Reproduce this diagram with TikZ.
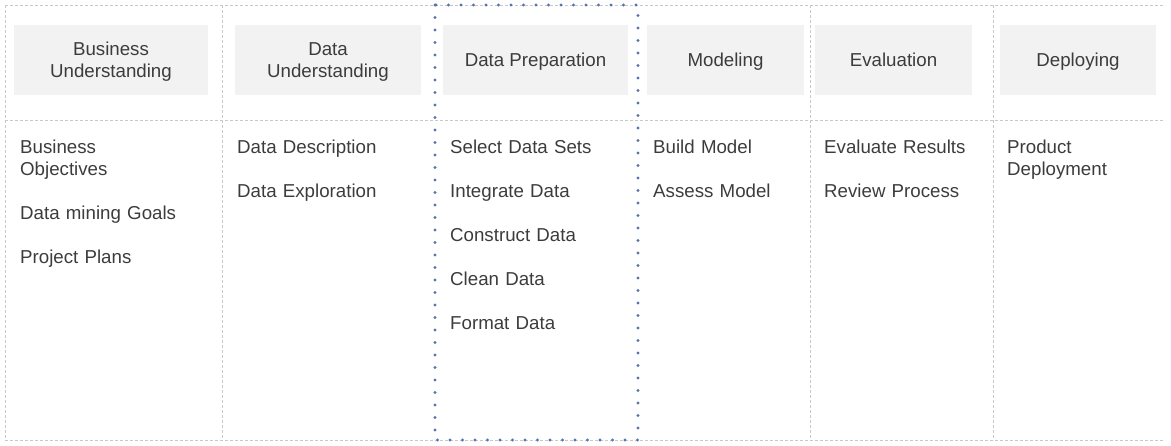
\documentclass[tikz,border=0pt]{standalone}
\usepackage{fontspec}
\setmainfont{Liberation Sans}
\usepackage{xcolor}
\usepackage{tikz}
\usetikzlibrary{positioning}

\definecolor{gridgray}{HTML}{C8C8C8}
\definecolor{dotblue}{HTML}{5874B0}
\definecolor{boxgray}{HTML}{F2F2F2}
\definecolor{textgray}{HTML}{3C3C3C}
\newcommand{\phasestrut}{\rule[-4pt]{0pt}{21pt}}

\begin{document}
\begin{tikzpicture}[x=1pt,y=-1pt,
        phase/.style={fill=boxgray,text=textgray,align=center,minimum height=70pt,
            inner sep=0pt,font=\fontsize{18.7}{22}\selectfont},
        task/.style={anchor=base west,text=textgray,text width=190pt,align=left,
            inner sep=0pt,font=\fontsize{18.7}{22}\selectfont},
        gridline/.style={gridgray,dash pattern=on 2.5pt off 2.5pt,line width=0.8pt},
        focus/.style={dotblue,line width=3.2pt,line cap=round,dash pattern=on 0pt off 12.5pt}]
        \useasboundingbox (0,0) rectangle (1171,445);

        % Grid
        \foreach \y in {5,120,440} {
            \draw[gridline] (5,\y) -- (1165,\y);
        }
        \foreach \x in {5,222,810,993} {
            \draw[gridline] (\x,5) -- (\x,440);
        }

        % Phase headers
        \foreach \name/\x/\w/\txt in {bu/111/194/Business\\Understanding,
                du/328/186/Data\\Understanding,
                dp/535.5/185/Data Preparation,
                mo/725.5/157/Modeling,
                ev/893.5/157/Evaluation,
                de/1078/156/Deploying} {
            \node[phase,minimum width=\w pt] (\name) at (\x,60) {\phasestrut\txt\phasestrut};
        }

        % Tasks per phase
        \node[task] (bu1) at (20,153) {Business\\Objectives};
        \node[task] (bu2) at (20,219) {Data mining Goals};
        \node[task] (bu3) at (20,263) {Project Plans};
        \foreach \txt [count=\i] in {Data Description,Data Exploration} {
            \node[task] (du\i) at (237,{153+44*(\i-1)}) {\txt};
        }
        \foreach \txt [count=\i] in {Select Data Sets,Integrate Data,Construct Data,Clean Data,Format Data} {
            \node[task] (dp\i) at (450,{153+44*(\i-1)}) {\txt};
        }
        \foreach \txt [count=\i] in {Build Model,Assess Model} {
            \node[task] (mo\i) at (653,{153+44*(\i-1)}) {\txt};
        }
        \foreach \txt [count=\i] in {Evaluate Results,Review Process} {
            \node[task] (ev\i) at (824,{153+44*(\i-1)}) {\txt};
        }
        \node[task] (de1) at (1007,153) {Product\\Deployment};

        % Highlighted phase
        \draw[focus] (435,5) rectangle (638,440);
    \end{tikzpicture}
\end{document}
